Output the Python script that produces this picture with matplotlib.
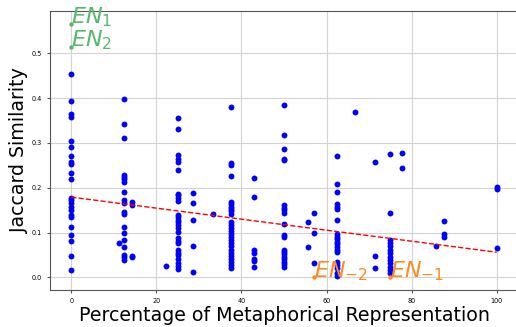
import numpy as np
import matplotlib
matplotlib.use('Agg')
import matplotlib.pyplot as plt

# share of metaphorical representation (x) and the Jaccard scores seen at each level
pct_levels = [0, 11.1, 12.5, 14.3, 22.2, 25, 28.6, 33.3, 37.5, 42.9, 50,
              55.6, 57.1, 62.5, 66.7, 71.4, 75, 77.8, 85.7, 87.5, 100]
jaccard_by_pct = [
    [0.454, 0.394, 0.365, 0.358, 0.304, 0.291, 0.271, 0.257, 0.252, 0.232, 0.219,
     0.178, 0.172, 0.165, 0.158, 0.150, 0.140, 0.134, 0.113, 0.094, 0.080, 0.048, 0.016],
    [0.077],
    [0.399, 0.342, 0.312, 0.228, 0.223, 0.219, 0.213, 0.191, 0.172, 0.165, 0.146,
     0.141, 0.113, 0.100, 0.083, 0.067, 0.050, 0.045, 0.039],
    [0.167, 0.161, 0.048, 0.045],
    [0.026],
    [0.356, 0.330, 0.272, 0.265, 0.257, 0.239, 0.187, 0.183, 0.178, 0.170, 0.139,
     0.134, 0.129, 0.124, 0.117, 0.109, 0.102, 0.087, 0.082, 0.076, 0.061, 0.055,
     0.050, 0.042, 0.031, 0.025, 0.018],
    [0.188, 0.165, 0.127, 0.071, 0.013],
    [0.142],
    [0.379, 0.256, 0.251, 0.226, 0.169, 0.164, 0.158, 0.152, 0.147, 0.141, 0.124,
     0.117, 0.110, 0.103, 0.097, 0.090, 0.083, 0.076, 0.069, 0.062, 0.055, 0.048,
     0.041, 0.034, 0.027, 0.021],
    [0.221, 0.180, 0.061, 0.055, 0.042, 0.037, 0.024],
    [0.385, 0.317, 0.286, 0.265, 0.262, 0.161, 0.155, 0.150, 0.144, 0.119, 0.094,
     0.089, 0.062, 0.057, 0.052, 0.046, 0.041, 0.035, 0.030, 0.022],
    [0.124, 0.067],
    [0.143, 0.098, 0.033],
    [0.270, 0.208, 0.190, 0.164, 0.158, 0.152, 0.129, 0.097, 0.091, 0.085, 0.079,
     0.074, 0.068, 0.062, 0.057, 0.035, 0.027, 0.020, 0.009, 0.003],
    [0.370],
    [0.257, 0.048, 0.021],
    [0.275, 0.143, 0.083, 0.076, 0.070, 0.062, 0.055, 0.046, 0.039, 0.031, 0.024,
     0.016, 0.010],
    [0.277, 0.245],
    [0.069],
    [0.126, 0.096, 0.091],
    [0.202, 0.197, 0.065],
]

# highlighted languages
top_labels = ['$EN_1$', '$EN_2$']
top_pct = [0, 0]
top_jaccard = [0.566, 0.515]
low_labels = ['$EN_{-2}$', '$EN_{-1}$']
low_pct = [57.1, 75]
low_jaccard = [0.0, 0.0]

# trend line (value at 0 % and slope per percentage point)
trend_intercept = 0.179
trend_slope = -0.00123

x = np.concatenate([[p] * len(v) for p, v in zip(pct_levels, jaccard_by_pct)])
y = np.concatenate(jaccard_by_pct)

fig = plt.figure(figsize=(5.16, 3.27), dpi=100)
# axes run slightly past the right edge of the picture, like the original crop
ax = fig.add_axes([0.0969, 0.1131, 0.907, 0.8532])

ax.scatter(x, y, s=18, color='blue', zorder=3, linewidths=0)

xs = np.array([x.min(), x.max()])
ax.plot(xs, trend_intercept + trend_slope * xs, color='red', linestyle='--',
        linewidth=1, zorder=4)

green = '#55b86b'
orange = '#ff8a1f'
ax.scatter(top_pct, top_jaccard, s=10, color=green, zorder=3, linewidths=0)
for lab, px, py in zip(top_labels, top_pct, top_jaccard):
    ax.text(px, py, lab, color=green, fontsize=16)
ax.scatter(low_pct, low_jaccard, s=10, color=orange, zorder=3, linewidths=0)
for lab, px, py in zip(low_labels, low_pct, low_jaccard):
    ax.text(px, py, lab, color=orange, fontsize=16)

ax.grid(True, color='#d3d3d3', linewidth=0.8)
ax.set_axisbelow(True)
for s in ax.spines.values():
    s.set_color('#555555')
ax.tick_params(labelsize=4.7, length=2, pad=4, color='#555555')
ax.set_xlabel('Percentage of Metaphorical Representation', fontsize=13.7, labelpad=1.5)
ax.set_ylabel('Jaccard Similarity', fontsize=13.7, labelpad=2)

fig.savefig('out.png', dpi=100)
